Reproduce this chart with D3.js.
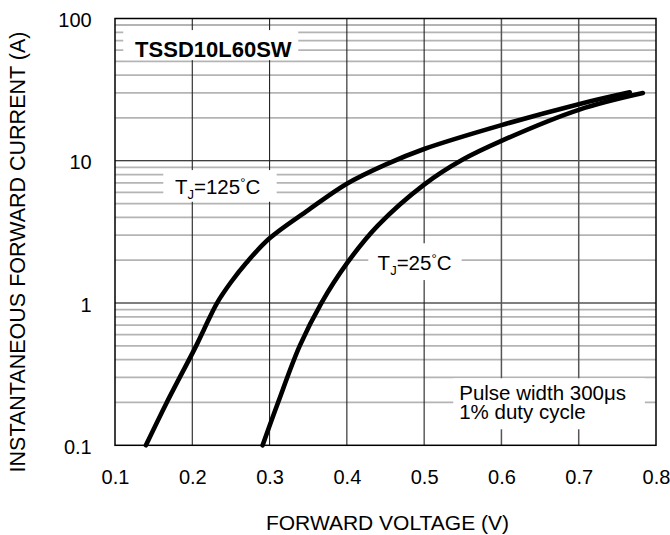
<!DOCTYPE html>
<html>
<head>
<meta charset="utf-8">
<script src="https://cdn.jsdelivr.net/npm/d3@7"></script>
<style>
  html, body { margin: 0; padding: 0; background: #fff; }
  svg { display: block; font-family: "Liberation Sans", Arial, sans-serif; }
</style>
</head>
<body>
<svg id="chart" width="670" height="535"></svg>
<script>
// ---- data ----
const xTicks = [0.1, 0.2, 0.3, 0.4, 0.5, 0.6, 0.7, 0.8];
const xTickLabels = ["0.1", "0.2", "0.3", "0.4", "0.5", "0.6", "0.7", "0.8"];
const yTicks = [0.1, 1, 10, 100];
const yTickLabels = ["0.1", "1", "10", "100"];

const v125 = [0.140, 0.167, 0.205, 0.215, 0.232, 0.250, 0.270, 0.300, 0.350, 0.400, 0.450, 0.500, 0.600, 0.700, 0.766];
const i125 = [0.10, 0.20, 0.50, 0.65, 1.00, 1.40, 1.92, 2.85, 4.50, 6.90, 9.40, 12.1, 17.8, 25.0, 30.3];

const v25 = [0.291, 0.311, 0.339, 0.367, 0.400, 0.440, 0.500, 0.550, 0.600, 0.700, 0.783];
const i25 = [0.10, 0.20, 0.50, 1.00, 1.90, 3.50, 6.80, 10.2, 13.8, 22.8, 29.9];

const xTitle = "FORWARD VOLTAGE (V)";
const yTitle = "INSTANTANEOUS FORWARD CURRENT (A)";

// ---- layout ----
const svg = d3.select("#chart");
const x = d3.scaleLinear().domain([0.1, 0.8]).range([115, 656]);
const y = d3.scaleLog().domain([0.1, 100]).range([445.3, 18.5]);

// horizontal minor grid
const minor = [];
[0.1, 1, 10].forEach(d => { for (let k = 2; k <= 9; k++) minor.push(d * k); });
svg.append("g").selectAll("line").data(minor).join("line")
  .attr("x1", x(0.1)).attr("x2", x(0.8))
  .attr("y1", d => y(d)).attr("y2", d => y(d))
  .attr("stroke", "#b4b4b4").attr("stroke-width", 1.8);

// major horizontal grid
svg.append("g").selectAll("line").data([1, 10]).join("line")
  .attr("x1", x(0.1)).attr("x2", x(0.8))
  .attr("y1", d => y(d)).attr("y2", d => y(d))
  .attr("stroke", "#000").attr("stroke-width", 1.1);

// vertical grid
svg.append("g").selectAll("line").data(xTicks.slice(1, -1)).join("line")
  .attr("x1", d => x(d)).attr("x2", d => x(d))
  .attr("y1", y(0.1)).attr("y2", y(100))
  .attr("stroke", d => d >= 0.6 ? "#555" : "#222").attr("stroke-width", d => d >= 0.6 ? 1.5 : 1.1);

// annotation boxes and labels
const font = 20.5;
function box(v0, v1, iTop, iBot) {
  svg.append("rect")
    .attr("x", x(v0)).attr("width", x(v1) - x(v0))
    .attr("y", y(iTop)).attr("height", y(iBot) - y(iTop))
    .attr("fill", "#fff");
}
box(0.1107, 0.3371, 82.9, 51.0);
box(0.1625, 0.3092, 8.6, 5.15);
box(0.4277, 0.5485, 2.63, 1.45);
box(0.5377, 0.7856, 0.296, 0.1296);

svg.append("text").attr("x", x(0.126)).attr("y", y(53.8))
  .attr("font-size", 22).attr("font-weight", "bold").text("TSSD10L60SW");

function tjLabel(v, i, temp) {
  const t = svg.append("text").attr("x", x(v)).attr("y", y(i)).attr("font-size", font);
  t.append("tspan").text("T");
  t.append("tspan").attr("font-size", 13).attr("dy", 5).text("J");
  t.append("tspan").attr("dy", -5).text("=" + temp);
  t.append("tspan").attr("font-size", 13).attr("dy", -7).text("°");
  t.append("tspan").attr("dy", 7).text("C");
}
tjLabel(0.1776, 5.8, "125");
tjLabel(0.4398, 1.71, "25");

const pulseX = x(0.5454);
svg.append("text").attr("x", pulseX).attr("y", y(0.206) - 0.5).attr("font-size", 20.5).text("Pulse width 300μs");
svg.append("text").attr("x", pulseX).attr("y", y(0.206) + 18).attr("font-size", 20.5).text("1% duty cycle");

// curves
const line = d3.line().x(d => x(d[0])).y(d => y(d[1])).curve(d3.curveCatmullRom.alpha(0.5));
[[v125, i125], [v25, i25]].forEach(([vs, is]) => {
  svg.append("path").datum(vs.map((v, k) => [v, is[k]]))
    .attr("d", line).attr("fill", "none").attr("stroke", "#000")
    .attr("stroke-width", 4.6).attr("stroke-linecap", "round").attr("stroke-linejoin", "round");
});

// border
svg.append("rect").attr("x", x(0.1)).attr("y", y(100))
  .attr("width", x(0.8) - x(0.1)).attr("height", y(0.1) - y(100))
  .attr("fill", "none").attr("stroke", "#000").attr("stroke-width", 1.5);

// axes
const xAxis = svg.append("g").attr("transform", `translate(0,${y(0.1)})`)
  .call(d3.axisBottom(x).tickValues(xTicks).tickFormat((d, k) => xTickLabels[k]).tickSize(0).tickPadding(24.5));
xAxis.select(".domain").remove();
xAxis.selectAll("text").attr("font-size", 20).attr("font-family", "Liberation Sans, Arial, sans-serif").attr("fill", "#000");

const yAxis = svg.append("g").attr("transform", `translate(${x(0.1)},0)`)
  .call(d3.axisLeft(y).tickValues(yTicks).tickFormat((d, k) => yTickLabels[k]).tickSize(0).tickPadding(23.3));
yAxis.select(".domain").remove();
yAxis.selectAll("text").attr("font-size", 20).attr("dy", "0.4em").attr("font-family", "Liberation Sans, Arial, sans-serif").attr("fill", "#000");

// titles
svg.append("text").attr("x", 387.5).attr("y", 530).attr("text-anchor", "middle")
  .attr("font-size", 21).text(xTitle);
svg.append("text").attr("transform", `translate(25,252) rotate(-90)`).attr("text-anchor", "middle")
  .attr("font-size", 21.5).text(yTitle);
</script>
</body>
</html>
